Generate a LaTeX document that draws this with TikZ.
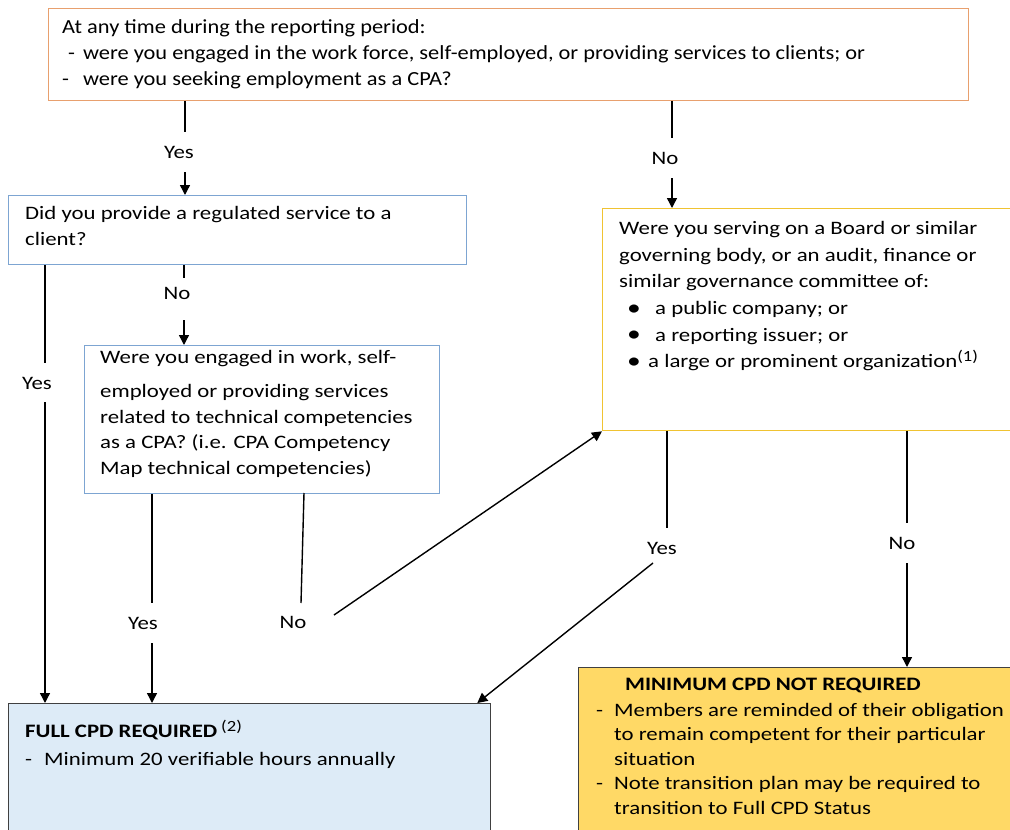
\documentclass[tikz,border=0pt]{standalone}
\usepackage{fontspec}
\setmainfont{Carlito}
\newfontfamily\boxfont[FakeStretch=1.2]{Carlito}
\newfontfamily\topfont[FakeStretch=1.12]{Carlito}
\usetikzlibrary{arrows.meta}
\definecolor{orangeb}{RGB}{232,160,110}
\definecolor{blueb}{RGB}{125,165,210}
\definecolor{yellowb}{RGB}{240,195,50}
\definecolor{fillblue}{RGB}{221,235,247}
\definecolor{fillyel}{RGB}{255,217,102}
\definecolor{darkb}{RGB}{64,64,64}
\newcommand{\bigbul}{\raisebox{-0.5pt}{\fontsize{23}{23}\selectfont •}}
\newcommand{\supnote}[1]{\raisebox{6pt}{\fontsize{15.5}{15.5}\selectfont(#1)}}
\tikzset{
  boxbase/.style={rectangle, inner sep=0pt, anchor=north west, line width=1.3pt},
  qtop/.style={boxbase, draw=orangeb},
  qblue/.style={boxbase, draw=blueb},
  qyel/.style={boxbase, draw=yellowb},
  resblue/.style={boxbase, draw=darkb, fill=fillblue},
  resyel/.style={boxbase, draw=darkb, fill=fillyel},
  txt/.style={inner sep=0pt, anchor=north west, align=left, text=black},
  lbl/.style={inner sep=0pt, text=black, font=\boxfont\fontsize{19}{22}\selectfont},
  conn/.style={line width=1.4pt, black},
  arr/.style={conn, -{Triangle[width=10pt,length=10pt]}},
}
\begin{document}
\begin{tikzpicture}[x=1pt,y=-1pt]
\useasboundingbox (0,0) rectangle (1010,830);
\begin{scope}
\clip (0,0) rectangle (1010,830);
% boxes
\node[qtop, minimum width=920pt, minimum height=92pt] (q1) at (48,8) {};
\node[qblue, minimum width=458pt, minimum height=69pt] (q2) at (8,195) {};
\node[qblue, minimum width=355pt, minimum height=148pt] (q3) at (84,345) {};
\node[qyel, minimum width=420pt, minimum height=222pt] (q4) at (602,208) {};
\node[resblue, minimum width=482pt, minimum height=140pt] (r1) at (8,703) {};
\node[resyel, minimum width=440pt, minimum height=175pt] (r2) at (578,667) {};

% texts
\node[txt, font=\topfont\fontsize{20}{26}\selectfont] (q1t) at (62,19)
 {At any time during the reporting period:\\
  \hspace*{6pt}-\hspace{8pt}were you engaged in the work force, self-employed, or providing services to clients; or\\
  -\hspace{14pt}were you seeking employment as a CPA?};
\node[txt, font=\boxfont\fontsize{19}{26}\selectfont] (q2t) at (25,206.4)
 {Did you provide a regulated service to a\\client?};
\node[txt, font=\boxfont\fontsize{19}{25.5}\selectfont] (q3t) at (100,350.4)
 {Were you engaged in work, self-\\[8.5pt]
  employed or providing services\\
  related to technical competencies\\
  as a CPA? (i.e. CPA Competency\\
  Map technical competencies)};
\node[txt, font=\boxfont\fontsize{19}{26.6}\selectfont] (q4t) at (619,221.4)
 {Were you serving on a Board or similar\\
  governing body, or an audit, finance or\\
  similar governance committee of:\\
  \hspace*{8pt}\makebox[28pt][l]{\bigbul}a public company; or\\
  \hspace*{8pt}\makebox[28pt][l]{\bigbul}a reporting issuer; or\\
  \hspace*{8pt}\makebox[21pt][l]{\bigbul}a large or prominent organization\smash{\supnote{1}}};
\node[txt, font=\boxfont\fontsize{19}{28}\selectfont] (r1t) at (25,724.4)
 {\textbf{FULL CPD REQUIRED}\hspace{4pt}\smash{\supnote{2}}\\
  \makebox[19pt][l]{-}Minimum 20 verifiable hours annually};
\node[txt, font=\boxfont\fontsize{19}{24.5}\selectfont] (r2t) at (596,677.4)
 {\hspace*{29pt}\textbf{MINIMUM CPD NOT REQUIRED}\\[1.5pt]
  \makebox[18pt][l]{-}Members are reminded of their obligation\\
  \hspace*{18pt}to remain competent for their particular\\
  \hspace*{18pt}situation\\
  \makebox[18pt][l]{-}Note transition plan may be required to\\
  \hspace*{18pt}transition to Full CPD Status};

% labels
\node[lbl] (y1) at (179,152) {Yes};
\node[lbl] (n1) at (665,158) {No};
\node[lbl] (y2) at (37,383) {Yes};
\node[lbl] (n2) at (177,293) {No};
\node[lbl] (y3) at (143,623) {Yes};
\node[lbl] (n3) at (293,622) {No};
\node[lbl] (y4) at (662,548) {Yes};
\node[lbl] (n4) at (902,543) {No};

% break points
\coordinate (a1) at (185,132); \coordinate (a2) at (185,172);
\coordinate (b1) at (672,138); \coordinate (b2) at (672,178);
\coordinate (c1) at (45,363);  \coordinate (c2) at (45,402);
\coordinate (d1) at (184,278); \coordinate (d2) at (184,320);
\coordinate (e1) at (152,603); \coordinate (e2) at (152,643);
\coordinate (f0) at (304,493); \coordinate (f1) at (301,603); \coordinate (f2) at (334,615);
\coordinate (g1) at (667,528); \coordinate (g2) at (653,563);
\coordinate (h1) at (907,523); \coordinate (h2) at (907,563);

% connectors
\draw[conn] (q1.south -| a1) -- (a1);
\draw[arr]  (a2) -- (q2.north -| a2);
\draw[conn] (q1.south -| b1) -- (b1);
\draw[arr]  (b2) -- (q4.north -| b2);
\draw[conn] (q2.south -| c1) -- (c1);
\draw[arr]  (c2) -- (r1.north -| c2);
\draw[conn] (q2.south -| d1) -- (d1);
\draw[arr]  (d2) -- (q3.north -| d2);
\draw[conn] (q3.south -| e1) -- (e1);
\draw[arr]  (e2) -- (r1.north -| e2);
\draw[conn] (f0) -- (f1);
\draw[arr]  (f2) -- (q4.south west);
\draw[conn] (q4.south -| g1) -- (g1);
\draw[arr]  (g2) -- ([xshift=-14pt]r1.north east);
\draw[conn] (q4.south -| h1) -- (h1);
\draw[arr]  (h2) -- (r2.north -| h2);
\end{scope}
\end{tikzpicture}
\end{document}
